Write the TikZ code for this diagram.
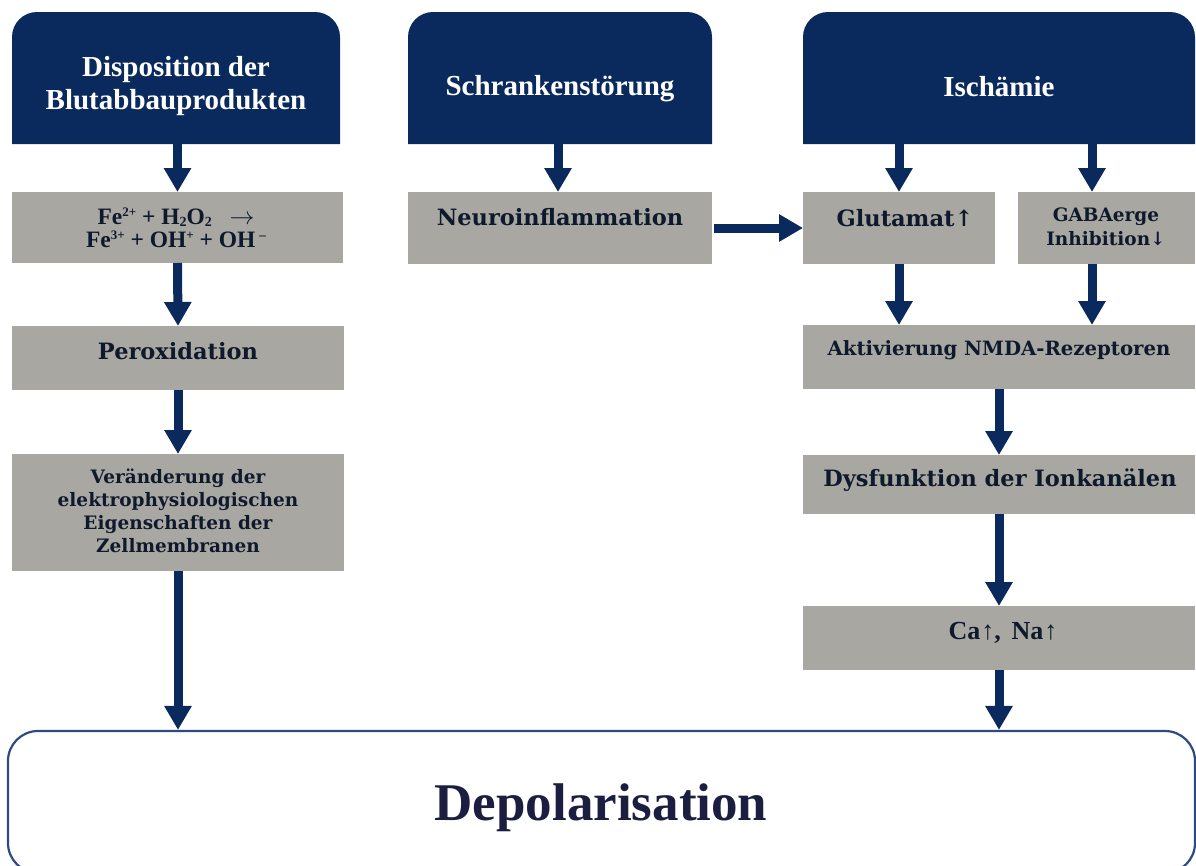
\documentclass[tikz,border=0pt]{standalone}
\usepackage{fontspec}
\setmainfont{Liberation Serif}
\newfontfamily\geo{DejaVu Serif}
\usetikzlibrary{arrows.meta}
\definecolor{navy}{HTML}{0A2A5E}
\definecolor{boxgray}{HTML}{A8A7A2}
\definecolor{ink}{HTML}{0E1A2C}
\definecolor{depink}{HTML}{1B1E40}
\definecolor{rim}{HTML}{2E4A80}
\newcommand{\hisup}[1]{\raisebox{8pt}[0pt][0pt]{\fontsize{13}{13}\selectfont #1}}
\newcommand{\losub}[1]{\raisebox{-2.5pt}[0pt][0pt]{\fontsize{14}{14}\selectfont #1}}
\tikzset{
  headbox/.style={inner sep=0pt, outer sep=0pt},
  headfill/.style={fill=navy},
  headtxt/.style={text=white, font=\fontsize{29}{33}\selectfont\bfseries, align=center, inner sep=0pt},
  graybox/.style={fill=boxgray, inner sep=0pt, outer sep=0pt},
  geotxt/.style 2 args={text=ink, font=\geo\fontsize{#1}{#2}\selectfont\bfseries, align=center, inner sep=0pt},
  timestxt/.style 2 args={text=ink, font=\fontsize{#1}{#2}\selectfont\bfseries, align=center, inner sep=0pt},
  arr/.style={draw=navy, line width=9pt, -{Triangle[width=26pt,length=24pt]}},
}
\begin{document}
\begin{tikzpicture}[x=1pt,y=-1pt]
\useasboundingbox (0,0) rectangle (1196,865);
% headers (shapes with rounded top corners)
\fill[headfill] (12,144) -- (12,37) arc[start angle=180,end angle=90,radius=25pt] -- (315,12) arc[start angle=90,end angle=0,radius=25pt] -- (340,144) -- cycle;
\fill[headfill] (408,144) -- (408,37) arc[start angle=180,end angle=90,radius=25pt] -- (687,12) arc[start angle=90,end angle=0,radius=25pt] -- (712,144) -- cycle;
\fill[headfill] (803,144) -- (803,37) arc[start angle=180,end angle=90,radius=25pt] -- (1170,12) arc[start angle=90,end angle=0,radius=25pt] -- (1195,144) -- cycle;
\node[headbox, minimum width=328pt, minimum height=132pt] (h1) at (176,78) {};
\node[headbox, minimum width=304pt, minimum height=132pt] (h2) at (560,78) {};
\node[headbox, minimum width=392pt, minimum height=132pt] (h3) at (999,78) {};
\node[headtxt] (h1t) at (176,86) {Disposition der\\Blutabbauprodukten};
\node[headtxt] (h2t) at (560,89) {Schrankenstörung};
\node[headtxt] (h3t) at (999,87) {Ischämie};
% gray boxes
\node[graybox, minimum width=331pt, minimum height=71pt] (fe) at (177.5,227.5) {};
\node[graybox, minimum width=304pt, minimum height=72pt] (neuro) at (560,228) {};
\node[graybox, minimum width=192pt, minimum height=72pt] (glu) at (899,228) {};
\node[graybox, minimum width=177pt, minimum height=72pt] (gaba) at (1106.5,228) {};
\node[graybox, minimum width=332pt, minimum height=64pt] (perox) at (178,358) {};
\node[graybox, minimum width=332pt, minimum height=117pt] (ver) at (178,512.5) {};
\node[graybox, minimum width=392pt, minimum height=64pt] (akt) at (999,357) {};
\node[graybox, minimum width=392pt, minimum height=59pt] (dys) at (999,484.5) {};
\node[graybox, minimum width=392pt, minimum height=64pt] (ca) at (999,638) {};
% depolarisation
\node[draw=rim, line width=2.2pt, rounded corners=30pt, inner sep=0pt, minimum width=1187pt, minimum height=142pt] (dep) at (601.5,802) {};
\node[text=depink, font=\fontsize{53}{60}\selectfont\bfseries, inner sep=0pt] (dept) at (601,808) {Depolarisation};
% texts
\node[timestxt={23.5}{23}] (fet) at (176,228) {Fe\hisup{2+} + H\losub{2}O\losub{2} \ \ $\rightarrow$\\Fe\hisup{3+} + OH\hisup{+} + OH\,\hisup{--}};
\node[geotxt={22.5}{28}] (neurot) at (560,217) {Neuroinflammation};
\node[geotxt={22.5}{28}] (glut) at (905,218) {Glutamat↑};
\node[geotxt={18.5}{24}] (gabat) at (1106,227) {GABAerge\\Inhibition↓};
\node[geotxt={22.5}{28}] (peroxt) at (178,351) {Peroxidation};
\node[geotxt={18.5}{23}] (vert) at (178,511) {Veränderung der\\elektrophysiologischen\\Eigenschaften der\\Zellmembranen};
\node[geotxt={19.7}{24}] (aktt) at (999,350) {Aktivierung NMDA-Rezeptoren};
\node[geotxt={22.5}{28}] (dyst) at (1000,480) {Dysfunktion der Ionkanälen};
\node[timestxt={26}{28}] (cat) at (1003,633) {Ca\kern1pt↑,\ \,Na\kern1pt↑};
% helper coordinates
\coordinate (gx) at (1092,0);
\coordinate (nx) at (558,0);
% arrows
\draw[arr] (h1.south -| fe.north) -- (fe.north);
\draw[arr] (fe.south) -- (perox.north);
\draw[arr] (perox.south) -- (ver.north);
\draw[arr] (ver.south) -- (ver.south |- dep.north);
\draw[arr] (h2.south -| nx) -- (neuro.north -| nx);
\draw[arr, shorten <=2pt] (neuro.east) -- (glu.west);
\draw[arr] (h3.south -| glu.north) -- (glu.north);
\draw[arr] (h3.south -| gx) -- (gaba.north -| gx);
\draw[arr] (glu.south) -- (glu.south |- akt.north);
\draw[arr] (gaba.south -| gx) -- (akt.north -| gx);
\draw[arr] (akt.south) -- (dys.north);
\draw[arr] (dys.south) -- (ca.north);
\draw[arr] (ca.south) -- (ca.south |- dep.north);
\end{tikzpicture}
\end{document}
